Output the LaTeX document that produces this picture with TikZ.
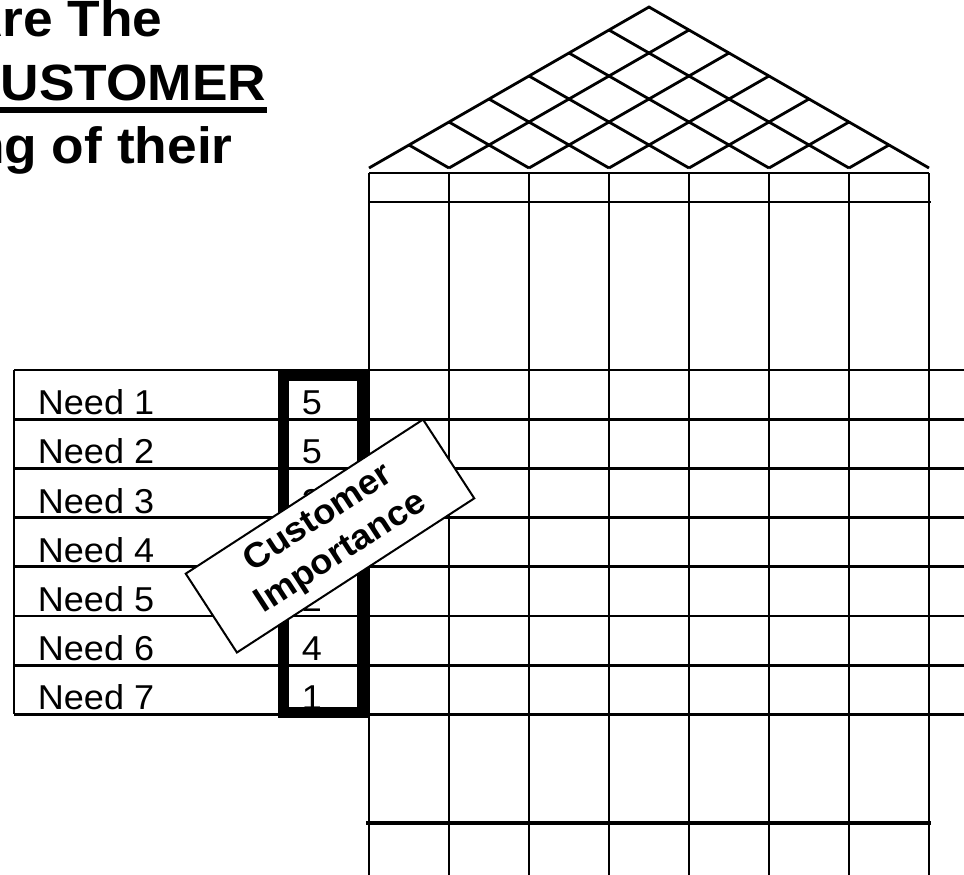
\documentclass[tikz,border=0pt]{standalone}
\usepackage{fontspec}
\setmainfont{Liberation Sans}[FakeStretch=1.045]
\usetikzlibrary{calc}

\begin{document}
\begin{tikzpicture}[x=0.5pt, y=-0.5pt,
  gridline/.style={line width=1.4pt, black},
  rowtext/.style={inner sep=0pt, anchor=base west, font=\fontsize{17.25}{20}\selectfont},
  headline/.style={inner sep=0pt, anchor=base east, font=\fontsize{25.5}{30}\bfseries\selectfont},
  tag/.style={draw, line width=1pt, fill=white, rotate=33, minimum width=141.5pt,
    minimum height=47pt, inner sep=0pt, align=center,
    font=\fontsize{17.4}{20.5}\bfseries\selectfont}]

  % Page frame (heading and rows run off the edges)
  \useasboundingbox (0,0) rectangle (964,874);
  \clip (0,0) rectangle (964,874);

  % Heading
  \node[headline] (head1) at (163,36.7) {Are The};
  \node[headline] (head2) at (266.7,100.7) {CUSTOMER};
  \node[headline] (head3) at (233,163.3) {ng of their};
  \draw[line width=3pt] ($(head2.base west)+(0,9)$) -- ($(head2.base east)+(0,9)$);

  % Roof: correlation lattice over the 7 columns
  \draw[gridline, line join=miter] (369,168) -- (649,7) -- (929,168);
  \foreach \i in {1,...,6} {
    \draw[gridline] (369+80*\i,168) -- ({369+40*(\i+7)},{168-23*(7-\i)});
    \draw[gridline] (369+80*\i,168) -- ({369+40*\i},{168-23*\i});
  }

  % Columns
  \draw[gridline] (369,173) -- (929,173);
  \draw[gridline] (369,202) -- (931,202);
  \foreach \i in {0,...,7}
    \draw[gridline] (369+80*\i,173) -- (369+80*\i,880);
  \draw[gridline, line width=1.7pt] (366,823) -- (931,823);

  % Needs rows
  \foreach \k in {0,...,7}
    \draw[gridline] (14,370+49.2*\k) -- (964,370+49.2*\k);
  \draw[gridline] (14,370) -- (14,714.4);

  \foreach \k/\v in {1/5,2/5,3/3,4/3,5/2,6/4,7/1} {
    \node[rowtext] (need\k) at (37.5,{370+49.2*\k-4.6}) {Need \k};
    \node[rowtext] (rate\k) at (301.5,{370+49.2*\k-4.6}) {\v};
  }

  % Importance column
  \draw[line width=5.5pt] (283,375.5) rectangle (362,712);

  % Label on top
  \node[tag] (tag) at (330,536) {Customer\\Importance};

\end{tikzpicture}
\end{document}
